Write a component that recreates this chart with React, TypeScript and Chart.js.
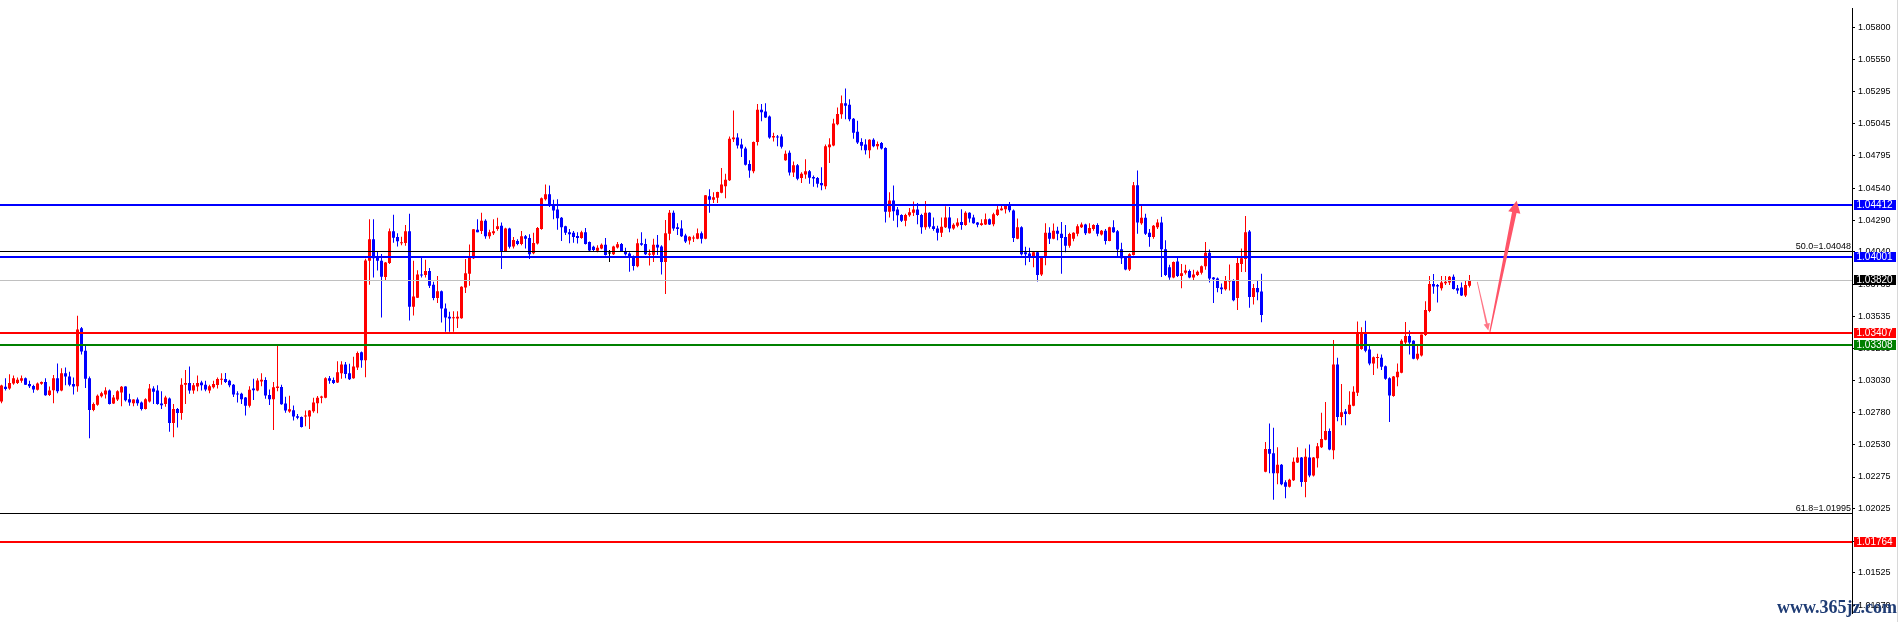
import { useEffect, useRef } from 'react';
import { Chart, registerables } from 'chart.js';

Chart.register(...registerables);

// ---- Candle data (EURUSD-like) ----
const opens = [
  1.02867, 1.02982, 1.02969, 1.03009, 1.03012, 1.03030, 1.03050, 1.03004, 1.02989, 1.02959,
  1.03007, 1.03020, 1.02918, 1.02956, 1.03050, 1.02954, 1.03088, 1.03063, 1.03004, 1.02987,
  1.03442, 1.03266, 1.03050, 1.02801, 1.02842, 1.02908, 1.02923, 1.02954, 1.02852, 1.02882,
  1.02938, 1.02984, 1.02885, 1.02854, 1.02882, 1.02859, 1.02809, 1.02867, 1.02969, 1.02954,
  1.02852, 1.02847, 1.02890, 1.02699, 1.02809, 1.02776, 1.02999, 1.03012, 1.02954, 1.02984,
  1.03017, 1.02999, 1.02954, 1.02979, 1.02997, 1.03038, 1.03043, 1.03030, 1.02999, 1.02928,
  1.02928, 1.02898, 1.02834, 1.02969, 1.02953, 1.03025, 1.03035, 1.02918, 1.02884, 1.02974,
  1.02981, 1.02851, 1.02788, 1.02798, 1.02752, 1.02745, 1.02750, 1.02750, 1.02790, 1.02854,
  1.02897, 1.02897, 1.03050, 1.03035, 1.03017, 1.03088, 1.03157, 1.03088, 1.03050, 1.03134,
  1.03253, 1.03190, 1.03971, 1.04139, 1.04004, 1.03971, 1.03844, 1.03953, 1.04202, 1.04157,
  1.04108, 1.04111, 1.04202, 1.03610, 1.03681, 1.03864, 1.03859, 1.03890, 1.03783, 1.03678,
  1.03732, 1.03597, 1.03531, 1.03521, 1.03518, 1.03521, 1.03762, 1.03869, 1.03991, 1.04215,
  1.04205, 1.04284, 1.04164, 1.04187, 1.04220, 1.04246, 1.04047, 1.04225, 1.04083, 1.04126,
  1.04103, 1.04164, 1.04149, 1.04029, 1.04106, 1.04220, 1.04454, 1.04492, 1.04411, 1.04373,
  1.04309, 1.04241, 1.04195, 1.04190, 1.04166, 1.04149, 1.04195, 1.04118, 1.04080, 1.04050,
  1.04068, 1.04096, 1.04027, 1.04022, 1.04075, 1.04103, 1.04047, 1.04027, 1.04004, 1.03928,
  1.04108, 1.04103, 1.04019, 1.04019, 1.04096, 1.04083, 1.03961, 1.04182, 1.04347, 1.04233,
  1.04225, 1.04169, 1.04129, 1.04146, 1.04144, 1.04187, 1.04144, 1.04477, 1.04449, 1.04465,
  1.04505, 1.04556, 1.04602, 1.04925, 1.04937, 1.04882, 1.04851, 1.04729, 1.04673, 1.04902,
  1.05156, 1.05141, 1.05103, 1.04937, 1.04945, 1.04945, 1.04760, 1.04818, 1.04663, 1.04721,
  1.04620, 1.04648, 1.04673, 1.04627, 1.04620, 1.04581, 1.04556, 1.04861, 1.04876, 1.05042,
  1.05121, 1.05207, 1.05194, 1.05085, 1.04983, 1.04902, 1.04882, 1.04838, 1.04920, 1.04869,
  1.04894, 1.04856, 1.04355, 1.04444, 1.04373, 1.04330, 1.04284, 1.04327, 1.04347, 1.04373,
  1.04330, 1.04233, 1.04347, 1.04241, 1.04225, 1.04190, 1.04233, 1.04310, 1.04225, 1.04246,
  1.04276, 1.04251, 1.04347, 1.04310, 1.04271, 1.04251, 1.04256, 1.04297, 1.04258, 1.04330,
  1.04368, 1.04375, 1.04401, 1.04365, 1.04144, 1.04233, 1.04037, 1.04027, 1.04009, 1.04037,
  1.03864, 1.03996, 1.04190, 1.04144, 1.04207, 1.04182, 1.04157, 1.04088, 1.04144, 1.04182,
  1.04233, 1.04256, 1.04187, 1.04220, 1.04251, 1.04177, 1.04207, 1.04126, 1.04233, 1.04202,
  1.04062, 1.04004, 1.03902, 1.04017, 1.04564, 1.04266, 1.04309, 1.04190, 1.04157, 1.04233,
  1.04271, 1.04062, 1.03920, 1.03839, 1.03966, 1.03851, 1.03877, 1.03890, 1.03839, 1.03859,
  1.03877, 1.03928, 1.04034, 1.03839, 1.03831, 1.03762, 1.03747, 1.03808, 1.03818, 1.03678,
  1.03946, 1.03984, 1.04200, 1.03686, 1.03757, 1.03729, 1.02317, 1.02495, 1.02462, 1.02305,
  1.02371, 1.02233, 1.02198, 1.02249, 1.02389, 1.02427, 1.02236, 1.02427, 1.02287, 1.02422,
  1.02508, 1.02567, 1.02635, 1.02485, 1.03157, 1.02745, 1.02788, 1.02770, 1.02834, 1.02936,
  1.03279, 1.03411, 1.03276, 1.03165, 1.03208, 1.03210, 1.03144, 1.03050, 1.02910, 1.03058,
  1.03093, 1.03330, 1.03381, 1.03343, 1.03203, 1.03228, 1.03388, 1.03577, 1.03788, 1.03780,
  1.03755, 1.03795, 1.03801, 1.03846, 1.03755, 1.03762, 1.03699, 1.03775,
];

const highs = [
  1.02999, 1.03050, 1.03081, 1.03071, 1.03055, 1.03071, 1.03055, 1.03030, 1.02999, 1.03017,
  1.03025, 1.03050, 1.02984, 1.03076, 1.03165, 1.03127, 1.03134, 1.03101, 1.03055, 1.03539,
  1.03452, 1.03304, 1.03063, 1.02859, 1.02923, 1.02943, 1.02979, 1.02961, 1.02918, 1.02956,
  1.02989, 1.02987, 1.02928, 1.02885, 1.02898, 1.02867, 1.02893, 1.03004, 1.02987, 1.02994,
  1.02948, 1.02913, 1.02898, 1.02847, 1.02816, 1.03050, 1.03114, 1.03142, 1.03012, 1.03071,
  1.03030, 1.03030, 1.02999, 1.03030, 1.03055, 1.03088, 1.03091, 1.03038, 1.03004, 1.02948,
  1.02936, 1.02903, 1.02987, 1.03045, 1.03050, 1.03088, 1.03058, 1.02961, 1.03020, 1.03304,
  1.02999, 1.02905, 1.02913, 1.02836, 1.02770, 1.02750, 1.02796, 1.02801, 1.02897, 1.02910,
  1.02913, 1.03058, 1.03068, 1.03055, 1.03182, 1.03182, 1.03177, 1.03164, 1.03218, 1.03259,
  1.03259, 1.03986, 1.04297, 1.04297, 1.04047, 1.04024, 1.03961, 1.04225, 1.04332, 1.04187,
  1.04159, 1.04251, 1.04340, 1.03971, 1.03897, 1.04004, 1.03979, 1.03915, 1.03806, 1.03851,
  1.03737, 1.03635, 1.03571, 1.03576, 1.03576, 1.03772, 1.03984, 1.04098, 1.04220, 1.04297,
  1.04347, 1.04297, 1.04215, 1.04297, 1.04309, 1.04271, 1.04230, 1.04230, 1.04157, 1.04139,
  1.04205, 1.04174, 1.04179, 1.04190, 1.04235, 1.04467, 1.04569, 1.04561, 1.04449, 1.04454,
  1.04314, 1.04246, 1.04220, 1.04205, 1.04195, 1.04207, 1.04228, 1.04123, 1.04088, 1.04093,
  1.04106, 1.04149, 1.04055, 1.04088, 1.04118, 1.04111, 1.04073, 1.04037, 1.04012, 1.04144,
  1.04195, 1.04144, 1.04060, 1.04144, 1.04174, 1.04093, 1.04291, 1.04370, 1.04365, 1.04266,
  1.04289, 1.04182, 1.04164, 1.04169, 1.04225, 1.04200, 1.04487, 1.04531, 1.04508, 1.04513,
  1.04698, 1.04653, 1.04945, 1.05149, 1.04971, 1.04927, 1.04866, 1.04760, 1.04907, 1.05200,
  1.05200, 1.05207, 1.05110, 1.04976, 1.04958, 1.04963, 1.04836, 1.04836, 1.04750, 1.04729,
  1.04665, 1.04767, 1.04683, 1.04640, 1.04627, 1.04704, 1.04882, 1.04932, 1.05085, 1.05174,
  1.05268, 1.05322, 1.05238, 1.05090, 1.05070, 1.04932, 1.04925, 1.04925, 1.04932, 1.04907,
  1.04902, 1.04861, 1.04508, 1.04561, 1.04393, 1.04335, 1.04340, 1.04385, 1.04436, 1.04424,
  1.04340, 1.04439, 1.04352, 1.04310, 1.04246, 1.04310, 1.04398, 1.04393, 1.04266, 1.04304,
  1.04375, 1.04360, 1.04352, 1.04332, 1.04276, 1.04296, 1.04342, 1.04302, 1.04347, 1.04403,
  1.04411, 1.04403, 1.04431, 1.04373, 1.04302, 1.04241, 1.04080, 1.04073, 1.04047, 1.04042,
  1.04001, 1.04266, 1.04233, 1.04264, 1.04238, 1.04276, 1.04251, 1.04190, 1.04195, 1.04258,
  1.04271, 1.04261, 1.04266, 1.04258, 1.04266, 1.04213, 1.04220, 1.04238, 1.04289, 1.04213,
  1.04113, 1.04009, 1.04029, 1.04589, 1.04678, 1.04411, 1.04340, 1.04220, 1.04251, 1.04297,
  1.04317, 1.04131, 1.03940, 1.03966, 1.03996, 1.03945, 1.03940, 1.03902, 1.03900, 1.03895,
  1.03933, 1.04118, 1.04060, 1.03844, 1.03839, 1.03793, 1.03851, 1.03942, 1.03826, 1.03999,
  1.04068, 1.04322, 1.04213, 1.03788, 1.03813, 1.03869, 1.02549, 1.02694, 1.02661, 1.02508,
  1.02376, 1.02249, 1.02261, 1.02427, 1.02508, 1.02432, 1.02498, 1.02529, 1.02432, 1.02541,
  1.02778, 1.02864, 1.02656, 1.03350, 1.03210, 1.03004, 1.02808, 1.02948, 1.02986, 1.03495,
  1.03449, 1.03500, 1.03304, 1.03221, 1.03241, 1.03236, 1.03149, 1.03058, 1.03068, 1.03165,
  1.03355, 1.03490, 1.03424, 1.03348, 1.03317, 1.03393, 1.03653, 1.03851, 1.03867, 1.03788,
  1.03851, 1.03851, 1.03851, 1.03864, 1.03780, 1.03801, 1.03813, 1.03859,
];

const lows = [
  1.02854, 1.02954, 1.02959, 1.02999, 1.03004, 1.03015, 1.02997, 1.02974, 1.02936, 1.02954,
  1.02999, 1.02913, 1.02911, 1.02854, 1.02931, 1.02948, 1.02994, 1.02987, 1.02923, 1.02943,
  1.03236, 1.02974, 1.02579, 1.02791, 1.02834, 1.02898, 1.02890, 1.02844, 1.02847, 1.02872,
  1.02829, 1.02867, 1.02834, 1.02829, 1.02834, 1.02796, 1.02804, 1.02859, 1.02847, 1.02842,
  1.02809, 1.02826, 1.02630, 1.02587, 1.02663, 1.02725, 1.02847, 1.02928, 1.02928, 1.02948,
  1.02954, 1.02948, 1.02931, 1.02969, 1.02969, 1.02999, 1.03012, 1.02979, 1.02903, 1.02859,
  1.02847, 1.02758, 1.02821, 1.02879, 1.02948, 1.02986, 1.02889, 1.02839, 1.02643, 1.02948,
  1.02841, 1.02778, 1.02778, 1.02719, 1.02727, 1.02663, 1.02673, 1.02651, 1.02778, 1.02775,
  1.02854, 1.02892, 1.03007, 1.03004, 1.03012, 1.03045, 1.03050, 1.03035, 1.03045, 1.03114,
  1.03132, 1.03058, 1.03783, 1.03839, 1.03895, 1.03526, 1.03821, 1.03946, 1.04113, 1.04083,
  1.04093, 1.04088, 1.03503, 1.03541, 1.03678, 1.03839, 1.03839, 1.03757, 1.03661, 1.03640,
  1.03487, 1.03414, 1.03414, 1.03414, 1.03444, 1.03516, 1.03719, 1.03775, 1.03984, 1.04195,
  1.04180, 1.04144, 1.04144, 1.04174, 1.04207, 1.03907, 1.04042, 1.04068, 1.04068, 1.04093,
  1.04093, 1.04068, 1.03984, 1.04022, 1.04098, 1.04215, 1.04444, 1.04393, 1.04296, 1.04215,
  1.04126, 1.04174, 1.04108, 1.04113, 1.04106, 1.04144, 1.04098, 1.04047, 1.04047, 1.04037,
  1.04062, 1.04012, 1.03961, 1.04017, 1.04068, 1.04042, 1.04012, 1.03884, 1.03895, 1.03920,
  1.04088, 1.04017, 1.03933, 1.03961, 1.04017, 1.03864, 1.03711, 1.04131, 1.04207, 1.04174,
  1.04157, 1.04111, 1.04098, 1.04118, 1.04139, 1.04106, 1.04139, 1.04347, 1.04424, 1.04424,
  1.04500, 1.04462, 1.04597, 1.04902, 1.04851, 1.04785, 1.04719, 1.04622, 1.04658, 1.04876,
  1.05065, 1.05090, 1.04927, 1.04907, 1.04869, 1.04851, 1.04755, 1.04640, 1.04627, 1.04602,
  1.04581, 1.04615, 1.04576, 1.04551, 1.04546, 1.04525, 1.04531, 1.04737, 1.04869, 1.05034,
  1.05085, 1.05080, 1.05065, 1.04927, 1.04887, 1.04838, 1.04805, 1.04775, 1.04861, 1.04843,
  1.04843, 1.04271, 1.04310, 1.04284, 1.04233, 1.04276, 1.04241, 1.04317, 1.04322, 1.04258,
  1.04182, 1.04215, 1.04225, 1.04207, 1.04129, 1.04157, 1.04228, 1.04195, 1.04215, 1.04233,
  1.04215, 1.04246, 1.04271, 1.04261, 1.04233, 1.04246, 1.04251, 1.04251, 1.04241, 1.04322,
  1.04365, 1.04342, 1.04352, 1.04118, 1.04139, 1.04012, 1.03935, 1.03961, 1.03920, 1.03808,
  1.03851, 1.03935, 1.04103, 1.04139, 1.04131, 1.03869, 1.04037, 1.04073, 1.04124, 1.04164,
  1.04228, 1.04174, 1.04185, 1.04207, 1.04164, 1.04169, 1.04098, 1.04124, 1.04190, 1.04004,
  1.03945, 1.03897, 1.03890, 1.04012, 1.04182, 1.04253, 1.04174, 1.04080, 1.04144, 1.04220,
  1.03844, 1.03851, 1.03823, 1.03834, 1.03844, 1.03755, 1.03864, 1.03834, 1.03813, 1.03851,
  1.03864, 1.03900, 1.03800, 1.03640, 1.03724, 1.03711, 1.03737, 1.03738, 1.03653, 1.03584,
  1.03882, 1.03882, 1.03602, 1.03628, 1.03661, 1.03488, 1.02312, 1.02305, 1.02096, 1.02218,
  1.02211, 1.02109, 1.02193, 1.02244, 1.02384, 1.02198, 1.02116, 1.02274, 1.02279, 1.02350,
  1.02503, 1.02564, 1.02485, 1.02414, 1.02712, 1.02681, 1.02681, 1.02765, 1.02829, 1.02910,
  1.03274, 1.03254, 1.03152, 1.03076, 1.03126, 1.03114, 1.03037, 1.02707, 1.02905, 1.02986,
  1.03088, 1.03317, 1.03236, 1.03198, 1.03190, 1.03221, 1.03381, 1.03567, 1.03712, 1.03643,
  1.03737, 1.03780, 1.03780, 1.03745, 1.03712, 1.03694, 1.03686, 1.03762,
];

const closes = [
  1.02992, 1.02966, 1.03012, 1.03050, 1.03038, 1.03050, 1.02999, 1.02987, 1.02961, 1.03009,
  1.03020, 1.02916, 1.02954, 1.03050, 1.02948, 1.03088, 1.03063, 1.02999, 1.02984, 1.03432,
  1.03259, 1.03045, 1.02801, 1.02847, 1.02913, 1.02931, 1.02954, 1.02847, 1.02898, 1.02948,
  1.02982, 1.02877, 1.02859, 1.02882, 1.02854, 1.02809, 1.02885, 1.02969, 1.02943, 1.02847,
  1.02837, 1.02898, 1.02699, 1.02809, 1.02776, 1.02999, 1.03012, 1.02954, 1.02994, 1.03012,
  1.02994, 1.02961, 1.02987, 1.03004, 1.03043, 1.03043, 1.03020, 1.02994, 1.02923, 1.02923,
  1.02885, 1.02834, 1.02959, 1.02956, 1.03032, 1.03037, 1.02915, 1.02884, 1.02979, 1.02984,
  1.02846, 1.02796, 1.02806, 1.02750, 1.02740, 1.02668, 1.02757, 1.02796, 1.02859, 1.02897,
  1.02907, 1.03050, 1.03030, 1.03012, 1.03096, 1.03157, 1.03083, 1.03042, 1.03142, 1.03248,
  1.03190, 1.03973, 1.04139, 1.03991, 1.03971, 1.03846, 1.03958, 1.04202, 1.04152, 1.04124,
  1.04116, 1.04202, 1.03610, 1.03691, 1.03864, 1.03856, 1.03890, 1.03775, 1.03678, 1.03732,
  1.03597, 1.03526, 1.03518, 1.03526, 1.03531, 1.03767, 1.03874, 1.03996, 1.04218, 1.04195,
  1.04284, 1.04164, 1.04195, 1.04202, 1.04241, 1.04047, 1.04225, 1.04080, 1.04134, 1.04103,
  1.04164, 1.04144, 1.04022, 1.04111, 1.04228, 1.04462, 1.04492, 1.04403, 1.04365, 1.04304,
  1.04233, 1.04190, 1.04179, 1.04157, 1.04149, 1.04195, 1.04103, 1.04052, 1.04055, 1.04073,
  1.04096, 1.04017, 1.04027, 1.04083, 1.04101, 1.04047, 1.04022, 1.03996, 1.03930, 1.04108,
  1.04096, 1.04022, 1.04027, 1.04096, 1.04075, 1.03961, 1.04187, 1.04347, 1.04225, 1.04220,
  1.04164, 1.04123, 1.04159, 1.04151, 1.04187, 1.04144, 1.04485, 1.04449, 1.04470, 1.04510,
  1.04569, 1.04607, 1.04927, 1.04937, 1.04876, 1.04851, 1.04724, 1.04678, 1.04902, 1.05156,
  1.05136, 1.05095, 1.04937, 1.04950, 1.04937, 1.04866, 1.04810, 1.04663, 1.04721, 1.04615,
  1.04653, 1.04673, 1.04622, 1.04617, 1.04576, 1.04564, 1.04869, 1.04882, 1.05047, 1.05123,
  1.05207, 1.05187, 1.05080, 1.04976, 1.04899, 1.04874, 1.04838, 1.04920, 1.04869, 1.04887,
  1.04851, 1.04355, 1.04444, 1.04360, 1.04327, 1.04284, 1.04330, 1.04352, 1.04373, 1.04330,
  1.04233, 1.04347, 1.04238, 1.04220, 1.04190, 1.04238, 1.04310, 1.04225, 1.04253, 1.04271,
  1.04251, 1.04347, 1.04302, 1.04266, 1.04253, 1.04266, 1.04297, 1.04256, 1.04335, 1.04373,
  1.04380, 1.04401, 1.04368, 1.04149, 1.04233, 1.04022, 1.04022, 1.04009, 1.04037, 1.03859,
  1.03999, 1.04190, 1.04144, 1.04207, 1.04182, 1.04149, 1.04088, 1.04180, 1.04190, 1.04241,
  1.04256, 1.04187, 1.04228, 1.04251, 1.04182, 1.04207, 1.04126, 1.04233, 1.04195, 1.04060,
  1.03991, 1.03902, 1.04022, 1.04564, 1.04271, 1.04309, 1.04182, 1.04157, 1.04246, 1.04271,
  1.04062, 1.03859, 1.03839, 1.03961, 1.03851, 1.03874, 1.03895, 1.03839, 1.03864, 1.03884,
  1.03928, 1.04034, 1.03831, 1.03826, 1.03757, 1.03747, 1.03813, 1.03818, 1.03661, 1.03953,
  1.03991, 1.04195, 1.03686, 1.03757, 1.03724, 1.03546, 1.02495, 1.02457, 1.02305, 1.02371,
  1.02218, 1.02198, 1.02254, 1.02394, 1.02427, 1.02236, 1.02434, 1.02287, 1.02427, 1.02516,
  1.02574, 1.02635, 1.02490, 1.03157, 1.02745, 1.02783, 1.02770, 1.02842, 1.02943, 1.03411,
  1.03399, 1.03266, 1.03165, 1.03215, 1.03215, 1.03139, 1.03045, 1.02915, 1.03063, 1.03101,
  1.03343, 1.03381, 1.03330, 1.03203, 1.03241, 1.03393, 1.03584, 1.03788, 1.03770, 1.03770,
  1.03801, 1.03806, 1.03846, 1.03750, 1.03737, 1.03699, 1.03780, 1.03820,
];

// ---- Axis ticks (MT4 price scale) ----
const yTicks = [
  1.058, 1.0555, 1.05295, 1.05045, 1.04795, 1.0454, 1.0429, 1.0404, 1.03785, 1.03535,
  1.03285, 1.0303, 1.0278, 1.0253, 1.02275, 1.02025, 1.0177, 1.01525, 1.0127,
];

// ---- Horizontal levels ----
const levelPrices = [1.04412, 1.04001, 1.03407, 1.03308, 1.01764];
const levelColors = ['#0000ff', '#0000ff', '#ff0000', '#008000', '#ff0000'];
const fibNames = ['50.0', '61.8'];
const fibPrices = [1.04048, 1.01995];
const bidPrice = 1.0382;

// ---- Forecast arrows (bar index, price) ----
const arrowDownX = [368.95, 371.7];
const arrowDownY = [1.03806, 1.03424];
const arrowUpX = [372.1, 378.8];
const arrowUpY = [1.03414, 1.04442];

const watermark = 'www.365jz.com';

const Y_MIN = 1.0120363;
const Y_MAX = 1.0595034;
const X_MIN = -0.375;
const X_MAX = 462.625;

const candleColor = (i: number) =>
  closes[i] > opens[i] ? '#ff0000' : closes[i] < opens[i] ? '#0000ff' : '#000000';

function drawArrow(
  ctx: CanvasRenderingContext2D,
  bx: number, by: number, tx: number, ty: number,
  w0: number, w1: number, headLen: number, headHalf: number, color: string
) {
  const dx = tx - bx, dy = ty - by;
  const len = Math.hypot(dx, dy);
  const ux = dx / len, uy = dy / len;
  const nx = -uy, ny = ux;
  const neckX = tx - ux * headLen, neckY = ty - uy * headLen;
  ctx.beginPath();
  ctx.moveTo(bx + nx * w0, by + ny * w0);
  ctx.lineTo(neckX + nx * w1, neckY + ny * w1);
  ctx.lineTo(neckX + nx * headHalf, neckY + ny * headHalf);
  ctx.lineTo(tx, ty);
  ctx.lineTo(neckX - nx * headHalf, neckY - ny * headHalf);
  ctx.lineTo(neckX - nx * w1, neckY - ny * w1);
  ctx.lineTo(bx - nx * w0, by - ny * w0);
  ctx.closePath();
  ctx.fillStyle = color;
  ctx.fill();
}

const overlayPlugin = {
  id: 'mt4overlay',
  afterDatasetsDraw(chart: any) {
    const { ctx, chartArea: ca, scales } = chart;
    const x = scales.x, y = scales.y;
    ctx.save();
    const hline = (price: number, color: string, w: number) => {
      const py = y.getPixelForValue(price);
      const yy = w % 2 === 1 ? Math.round(py) + 0.5 : Math.round(py);
      ctx.strokeStyle = color;
      ctx.lineWidth = w;
      ctx.beginPath();
      ctx.moveTo(ca.left, yy);
      ctx.lineTo(ca.right, yy);
      ctx.stroke();
    };
    hline(bidPrice, '#c0c0c0', 1);
    fibPrices.forEach((p) => hline(p, '#000000', 1));
    levelPrices.forEach((p, i) => hline(p, levelColors[i], 2));

    ctx.font = '9px "Liberation Sans", Arial, sans-serif';
    ctx.fillStyle = '#000';
    ctx.textAlign = 'right';
    ctx.textBaseline = 'alphabetic';
    fibPrices.forEach((p, i) => {
      const py = Math.round(y.getPixelForValue(p));
      ctx.fillText(`${fibNames[i]}=${p.toFixed(5)}`, ca.right - 1, py - 2);
    });

    // arrows
    drawArrow(
      ctx,
      x.getPixelForValue(arrowDownX[0]), y.getPixelForValue(arrowDownY[0]),
      x.getPixelForValue(arrowDownX[1]), y.getPixelForValue(arrowDownY[1]),
      0.4, 0.9, 7, 3.2, 'rgba(255,84,104,0.8)'
    );
    drawArrow(
      ctx,
      x.getPixelForValue(arrowUpX[0]), y.getPixelForValue(arrowUpY[0]),
      x.getPixelForValue(arrowUpX[1]), y.getPixelForValue(arrowUpY[1]),
      0.6, 2.3, 12, 6.2, '#ff5468'
    );
    ctx.restore();
  },
  afterDraw(chart: any) {
    const { ctx, chartArea: ca, scales } = chart;
    const y = scales.y;
    ctx.save();
    ctx.font = '10px "Liberation Sans", Arial, sans-serif';
    ctx.textAlign = 'left';
    ctx.textBaseline = 'middle';
    const box = (price: number, bg: string) => {
      const py = Math.round(y.getPixelForValue(price));
      ctx.fillStyle = bg;
      ctx.fillRect(ca.right + 2, py - 5, 42, 10);
      ctx.fillStyle = '#ffffff';
      ctx.fillText(price.toFixed(5), ca.right + 4.5, py + 0.5);
    };
    levelPrices.forEach((p, i) => box(p, levelColors[i]));
    box(bidPrice, '#000000');

    // watermark
    ctx.font = 'bold 18px "Liberation Serif", "DejaVu Serif", serif';
    ctx.fillStyle = '#1f3c74';
    ctx.textAlign = 'left';
    ctx.textBaseline = 'alphabetic';
    ctx.fillText(watermark, 1777, 613);

    // window edge
    ctx.fillStyle = '#d8d8d8';
    ctx.fillRect(1897, 0, 1, 622);
    ctx.restore();
  },
};

export default function App() {
  const ref = useRef<HTMLCanvasElement | null>(null);

  useEffect(() => {
    if (!ref.current) return;
    const n = Math.min(opens.length, highs.length, lows.length, closes.length);
    const idx = Array.from({ length: n }, (_, i) => i);
    const chart = new Chart(ref.current, {
      type: 'bar',
      data: {
        datasets: [
          {
            label: 'body',
            data: idx.map((i) => ({ x: i, y: [opens[i], closes[i]] })) as any,
            backgroundColor: (c: any) => candleColor(c.dataIndex),
            barThickness: 3,
            minBarLength: 1,
            grouped: false,
            borderWidth: 0,
            borderSkipped: false,
            inflateAmount: 0,
          } as any,
          {
            label: 'wick',
            data: idx.map((i) => ({ x: i, y: [lows[i], highs[i]] })) as any,
            backgroundColor: (c: any) => candleColor(c.dataIndex),
            barThickness: 1,
            grouped: false,
            borderWidth: 0,
            borderSkipped: false,
            inflateAmount: 0,
          } as any,
        ],
      },
      options: {
        animation: false,
        responsive: false,
        devicePixelRatio: 1,
        events: [],
        layout: { padding: 0 },
        plugins: { legend: { display: false }, tooltip: { enabled: false } },
        scales: {
          x: {
            type: 'linear',
            min: X_MIN,
            max: X_MAX,
            display: false,
            offset: false,
          },
          y: {
            type: 'linear',
            position: 'right',
            min: Y_MIN,
            max: Y_MAX,
            afterBuildTicks: (scale: any) => {
              scale.ticks = yTicks.map((v) => ({ value: v }));
            },
            afterFit: (scale: any) => {
              scale.width = 47;
            },
            ticks: {
              autoSkip: false,
              padding: 3,
              color: '#000000',
              font: { family: '"Liberation Sans", Arial, sans-serif', size: 9 },
              callback: (v: any) => Number(v).toFixed(5),
            },
            grid: {
              display: true,
              drawOnChartArea: false,
              drawTicks: true,
              tickLength: 3,
              color: '#000000',
              lineWidth: 1,
            },
            border: { display: true, color: '#000000', width: 1 },
          },
        },
      } as any,
      plugins: [overlayPlugin],
    });
    return () => chart.destroy();
  }, []);

  return (
    <div style={{ position: 'fixed', left: 0, top: 0, width: 1899, height: 622, background: '#ffffff' }}>
      <canvas ref={ref} width={1899} height={622} style={{ display: 'block', width: 1899, height: 622 }} />
    </div>
  );
}
